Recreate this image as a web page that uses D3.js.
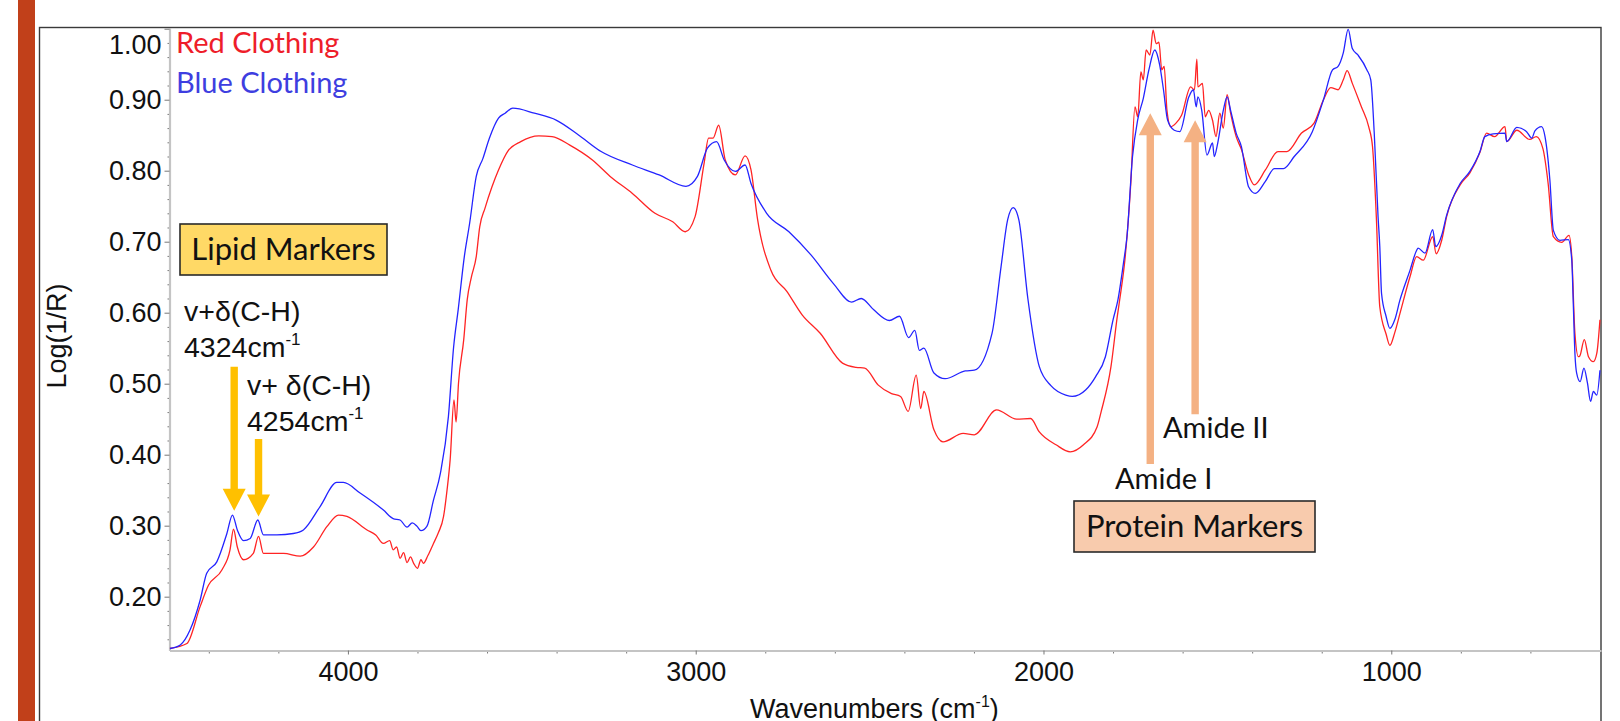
<!DOCTYPE html>
<html>
<head>
<meta charset="utf-8">
<script src="https://cdn.jsdelivr.net/npm/d3@7"></script>
<style>
  body { margin: 0; background: #fff; }
  svg { display: block; }
  .axis text { font-family: "Liberation Sans", Arial, sans-serif; font-size: 27px; fill: #111; }
  .axis .domain { stroke: #c4c4c4; stroke-width: 2.2px; }
  .axis line { stroke: #777; }
  .note { font-family: "Liberation Sans", Arial, sans-serif; font-size: 28.5px; fill: #111; }
  .label { font-family: Lato, "Noto Sans", sans-serif; fill: #111; }
</style>
</head>
<body>
<svg id="chart" width="1620" height="721"></svg>
<script>
// tick values
const xTicks = [4000, 3000, 2000, 1000];
const xMinorTicks = [4400, 4200, 3800, 3600, 3400, 3200, 2800, 2600, 2400, 2200,
  1800, 1600, 1400, 1200, 800, 600];
const yTicks = [0.2, 0.3, 0.4, 0.5, 0.6, 0.7, 0.8, 0.9, 1.0];
const yMinorTicks = [0.14, 0.16, 0.18, 0.22, 0.24, 0.26, 0.28, 0.32, 0.34, 0.36, 0.38,
  0.42, 0.44, 0.46, 0.48, 0.52, 0.54, 0.56, 0.58, 0.62, 0.64, 0.66, 0.68,
  0.72, 0.74, 0.76, 0.78, 0.82, 0.84, 0.86, 0.88, 0.92, 0.94, 0.96, 0.98];

const seriesNames = ["Red Clothing", "Blue Clothing"];

// [wavenumber, log(1/R)]
const redSpectrum = [
  [4512, 0.127], [4463, 0.134], [4425, 0.186], [4401, 0.216], [4362, 0.238],
  [4339, 0.266], [4329, 0.295], [4318, 0.270], [4300, 0.252], [4272, 0.261],
  [4257, 0.285], [4243, 0.261], [4185, 0.261], [4137, 0.257], [4099, 0.270],
  [4060, 0.299], [4027, 0.315], [4003, 0.313], [3945, 0.294], [3920, 0.287],
  [3898, 0.275], [3880, 0.279], [3870, 0.266], [3860, 0.270], [3850, 0.254],
  [3840, 0.262], [3830, 0.248], [3820, 0.256], [3811, 0.247], [3800, 0.240],
  [3790, 0.252], [3783, 0.247], [3770, 0.258], [3754, 0.275], [3740, 0.290],
  [3725, 0.313], [3715, 0.350], [3706, 0.393], [3695, 0.477], [3689, 0.446],
  [3682, 0.501], [3667, 0.562], [3657, 0.618], [3645, 0.650], [3631, 0.679],
  [3621, 0.721], [3606, 0.747], [3586, 0.777], [3567, 0.801], [3541, 0.827],
  [3503, 0.841], [3451, 0.849], [3413, 0.848], [3362, 0.836], [3297, 0.815],
  [3246, 0.792], [3182, 0.768], [3117, 0.740], [3066, 0.728], [3030, 0.714],
  [3002, 0.735], [2976, 0.810], [2963, 0.846], [2950, 0.846], [2934, 0.864],
  [2915, 0.815], [2886, 0.794], [2858, 0.821], [2841, 0.801], [2822, 0.731],
  [2784, 0.660], [2738, 0.630], [2694, 0.597], [2642, 0.571], [2578, 0.529],
  [2539, 0.523], [2514, 0.522], [2475, 0.498], [2437, 0.486], [2411, 0.482],
  [2389, 0.461], [2366, 0.512], [2353, 0.465], [2344, 0.489], [2315, 0.435],
  [2289, 0.418], [2231, 0.430], [2199, 0.428], [2135, 0.463], [2077, 0.450],
  [2037, 0.451], [2012, 0.432], [1964, 0.414], [1923, 0.404], [1885, 0.414],
  [1846, 0.439], [1834, 0.461], [1806, 0.524], [1788, 0.594], [1781, 0.618],
  [1765, 0.679], [1749, 0.782], [1737, 0.890], [1729, 0.876], [1720, 0.939],
  [1713, 0.928], [1705, 0.970], [1694, 0.963], [1685, 0.998], [1676, 0.979],
  [1668, 0.981], [1660, 0.942], [1653, 0.947], [1645, 0.885], [1634, 0.862],
  [1619, 0.867], [1603, 0.878], [1577, 0.918], [1566, 0.914], [1559, 0.957],
  [1556, 0.918], [1543, 0.923], [1535, 0.876], [1525, 0.885], [1514, 0.871],
  [1504, 0.848], [1493, 0.881], [1483, 0.860], [1472, 0.907], [1462, 0.881],
  [1446, 0.848], [1431, 0.830], [1410, 0.794], [1394, 0.780], [1362, 0.801],
  [1326, 0.827], [1300, 0.827], [1258, 0.853], [1222, 0.867], [1195, 0.900],
  [1174, 0.917], [1153, 0.914], [1138, 0.928], [1127, 0.941], [1112, 0.923],
  [1086, 0.890], [1065, 0.862], [1054, 0.834], [1043, 0.735], [1033, 0.608],
  [1015, 0.570], [1004, 0.554], [990, 0.572], [975, 0.599], [946, 0.651],
  [927, 0.679], [908, 0.674], [881, 0.707], [871, 0.683], [855, 0.702],
  [841, 0.735], [802, 0.780], [774, 0.797], [745, 0.826], [726, 0.853],
  [703, 0.848], [673, 0.862], [668, 0.841], [639, 0.857], [602, 0.844],
  [583, 0.848], [564, 0.831], [549, 0.782], [534, 0.707], [510, 0.699],
  [489, 0.709], [481, 0.679], [472, 0.571], [462, 0.538], [458, 0.539],
  [445, 0.562], [433, 0.538], [419, 0.531], [409, 0.543], [400, 0.590]
];

const blueSpectrum = [
  [4512, 0.127], [4482, 0.132], [4454, 0.153], [4425, 0.195], [4406, 0.233],
  [4377, 0.249], [4348, 0.289], [4332, 0.315], [4318, 0.294], [4300, 0.279],
  [4281, 0.282], [4259, 0.308], [4243, 0.287], [4204, 0.287], [4157, 0.289],
  [4128, 0.294], [4080, 0.327], [4032, 0.361], [4013, 0.361], [3965, 0.346],
  [3898, 0.322], [3870, 0.310], [3850, 0.308], [3830, 0.298], [3815, 0.304],
  [3801, 0.299], [3790, 0.293], [3773, 0.299], [3754, 0.336], [3734, 0.374],
  [3711, 0.454], [3696, 0.552], [3683, 0.604], [3665, 0.680], [3650, 0.726],
  [3631, 0.792], [3612, 0.817], [3593, 0.846], [3567, 0.874], [3548, 0.881],
  [3526, 0.888], [3464, 0.881], [3400, 0.871], [3336, 0.850], [3272, 0.827],
  [3182, 0.808], [3105, 0.794], [3028, 0.778], [2995, 0.792], [2966, 0.832],
  [2940, 0.841], [2918, 0.815], [2886, 0.799], [2858, 0.808], [2841, 0.782],
  [2796, 0.740], [2732, 0.714], [2668, 0.681], [2604, 0.641], [2552, 0.615],
  [2524, 0.620], [2488, 0.604], [2443, 0.589], [2414, 0.595], [2388, 0.565],
  [2370, 0.575], [2357, 0.547], [2344, 0.550], [2315, 0.515], [2283, 0.507],
  [2225, 0.518], [2199, 0.519], [2148, 0.571], [2122, 0.665], [2103, 0.731],
  [2087, 0.748], [2071, 0.731], [2045, 0.620], [2012, 0.524], [1978, 0.497],
  [1936, 0.484], [1917, 0.482], [1879, 0.491], [1850, 0.510], [1822, 0.538],
  [1800, 0.590], [1786, 0.618], [1770, 0.670], [1760, 0.707], [1744, 0.820],
  [1729, 0.872], [1713, 0.902], [1697, 0.942], [1680, 0.970], [1666, 0.949],
  [1655, 0.914], [1643, 0.871], [1624, 0.857], [1608, 0.855], [1582, 0.904],
  [1569, 0.914], [1561, 0.890], [1556, 0.904], [1545, 0.885], [1530, 0.822],
  [1514, 0.839], [1509, 0.820], [1499, 0.839], [1483, 0.885], [1472, 0.904],
  [1462, 0.885], [1446, 0.853], [1431, 0.834], [1410, 0.777], [1391, 0.768],
  [1362, 0.785], [1336, 0.803], [1310, 0.803], [1279, 0.820], [1227, 0.855],
  [1195, 0.900], [1169, 0.942], [1153, 0.947], [1138, 0.966], [1124, 0.999],
  [1112, 0.972], [1096, 0.963], [1070, 0.942], [1059, 0.928], [1049, 0.853],
  [1038, 0.735], [1033, 0.693], [1028, 0.627], [1015, 0.595], [1004, 0.578],
  [990, 0.590], [975, 0.618], [946, 0.660], [927, 0.688], [923, 0.691],
  [903, 0.684], [881, 0.717], [872, 0.693], [855, 0.709], [841, 0.737],
  [802, 0.782], [774, 0.799], [745, 0.827], [731, 0.848], [707, 0.852],
  [673, 0.853], [668, 0.841], [639, 0.861], [611, 0.855], [596, 0.846],
  [587, 0.856], [568, 0.862], [558, 0.848], [544, 0.787], [534, 0.716],
  [515, 0.702], [491, 0.703], [481, 0.674], [477, 0.618], [472, 0.543],
  [467, 0.515], [457, 0.503], [446, 0.522], [436, 0.501], [427, 0.475],
  [419, 0.489], [409, 0.484], [400, 0.519]
];

// arrows: wavenumber, start value (tail), end value (tip)
const lipidArrows = [
  { wavenumber: 4327, from: 0.524, to: 0.321 },
  { wavenumber: 4257, from: 0.422, to: 0.313 }
];
const proteinArrows = [
  { wavenumber: 1693, from: 0.387, to: 0.881 },
  { wavenumber: 1564, from: 0.457, to: 0.871 }
];

const plot = { left: 169.5, right: 1601, top: 27.5, bottom: 650.5 };
const colors = ["#ff2424", "#2424ff"];
const legendColors = ["#ee1d2a", "#3e3ee0"];

const svg = d3.select("#chart");

// side bar + frame
svg.append("rect")
  .attr("x", 18).attr("y", 0).attr("width", 17).attr("height", 721)
  .attr("fill", "#c1401a");
svg.append("rect")
  .attr("x", 39.5).attr("y", 27.5).attr("width", 1561.5).attr("height", 720)
  .attr("fill", "none").attr("stroke", "#3a3a3a").attr("stroke-width", 1.4);

const x = d3.scaleLinear().domain([4513, 397]).range([plot.left, plot.right]);
const y = d3.scaleLinear().domain([0.1242, 1.0017]).range([plot.bottom, plot.top]);

// minor ticks first so the axis lines sit on top
svg.append("g")
  .attr("class", "axis minor")
  .attr("transform", "translate(0," + plot.bottom + ")")
  .call(d3.axisBottom(x).tickValues(xMinorTicks).tickSize(3).tickSizeOuter(0).tickFormat(""));
svg.append("g")
  .attr("class", "axis minor")
  .attr("transform", "translate(" + plot.left + ",0)")
  .call(d3.axisLeft(y).tickValues(yMinorTicks).tickSize(2).tickSizeOuter(0).tickFormat(""));
svg.selectAll(".axis.minor .domain").remove();

svg.append("g")
  .attr("class", "axis")
  .attr("transform", "translate(0," + plot.bottom + ")")
  .call(d3.axisBottom(x).tickValues(xTicks).tickSize(4).tickSizeOuter(0)
    .tickPadding(7).tickFormat(d3.format("d")));

const yAxis = svg.append("g")
  .attr("class", "axis")
  .attr("transform", "translate(" + plot.left + ",0)")
  .call(d3.axisLeft(y).tickValues(yTicks).tickSize(5).tickSizeOuter(0)
    .tickPadding(3).tickFormat(d3.format(".2f")));

// the top label sits lower, inside the frame
yAxis.selectAll(".tick")
  .filter((d) => d === 1.0)
  .select("text")
  .attr("dy", "0.92em");

// axis titles
svg.append("text")
  .attr("transform", "translate(66,336) rotate(-90)")
  .attr("text-anchor", "middle")
  .style("font-family", "'Liberation Sans', Arial, sans-serif")
  .style("font-size", "27px")
  .attr("fill", "#111")
  .text("Log(1/R)");

const xTitle = svg.append("text")
  .attr("x", 750).attr("y", 718)
  .style("font-family", "'Liberation Sans', Arial, sans-serif")
  .style("font-size", "27px")
  .attr("fill", "#111");
xTitle.append("tspan").text("Wavenumbers (cm");
xTitle.append("tspan").attr("dy", -11).style("font-size", "16px").text("-1");
xTitle.append("tspan").attr("dy", 11).text(")");

// spectra
svg.append("clipPath").attr("id", "plot-clip")
  .append("rect")
  .attr("x", plot.left).attr("y", plot.top)
  .attr("width", plot.right - plot.left).attr("height", plot.bottom - plot.top);

const line = d3.line()
  .curve(d3.curveMonotoneX)
  .x((d) => x(d[0]))
  .y((d) => y(d[1]));

svg.append("g")
  .attr("clip-path", "url(#plot-clip)")
  .selectAll("path.spectrum")
  .data([redSpectrum, blueSpectrum])
  .enter()
  .append("path")
  .attr("class", "spectrum")
  .attr("d", line)
  .attr("fill", "none")
  .attr("stroke", (d, i) => colors[i])
  .attr("stroke-width", 1.3)
  .attr("stroke-linejoin", "round");

// legend
svg.selectAll("text.legend")
  .data(seriesNames)
  .enter()
  .append("text")
  .attr("class", "legend label")
  .attr("x", 176)
  .attr("y", (d, i) => 53 + i * 40)
  .style("font-size", "29px")
  .style("fill", (d, i) => legendColors[i])
  .text((d) => d);

// block arrows
function drawArrow(g, a, color) {
  const cx = x(a.wavenumber);
  const y0 = y(a.from);
  const y1 = y(a.to);
  const dir = y1 > y0 ? 1 : -1;
  const head = 22, halfHead = 11.5, halfShaft = 3.7;
  const yb = y1 - dir * head;
  const pts = [
    [cx - halfShaft, y0], [cx + halfShaft, y0], [cx + halfShaft, yb],
    [cx + halfHead, yb], [cx, y1], [cx - halfHead, yb], [cx - halfShaft, yb]
  ];
  g.append("path")
    .attr("d", "M" + pts.map((p) => p.join(",")).join("L") + "Z")
    .attr("fill", color);
}
const arrows = svg.append("g");
lipidArrows.forEach((a) => drawArrow(arrows, a, "#ffc000"));
proteinArrows.forEach((a) => drawArrow(arrows, a, "#f4b183"));

// boxes
function labelBox(bx, by, bw, bh, fill, txt) {
  svg.append("rect")
    .attr("x", bx).attr("y", by).attr("width", bw).attr("height", bh)
    .attr("fill", fill).attr("stroke", "#2a2a2a").attr("stroke-width", 1.6);
  svg.append("text")
    .attr("class", "label")
    .attr("x", bx + bw / 2).attr("y", by + bh / 2 + 10.5)
    .attr("text-anchor", "middle")
    .style("font-size", "31px")
    .text(txt);
}
labelBox(180, 224, 207, 51, "#ffd966", "Lipid Markers");
labelBox(1074, 501, 241, 51, "#f8cbad", "Protein Markers");

// peak notes
function note(nx, ny, first, second) {
  svg.append("text").attr("class", "note").attr("x", nx).attr("y", ny).text(first);
  const t2 = svg.append("text").attr("class", "note").attr("x", nx).attr("y", ny + 36);
  t2.append("tspan").text(second);
  t2.append("tspan").attr("dy", -12).style("font-size", "17px").text("-1");
}
note(184, 321, "v+\u03b4(C-H)", "4324cm");
note(247, 394.5, "v+ \u03b4(C-H)", "4254cm");

svg.append("text").attr("class", "label")
  .attr("x", 1163).attr("y", 438).style("font-size", "29px").text("Amide II");
svg.append("text").attr("class", "label")
  .attr("x", 1115).attr("y", 489).style("font-size", "29px").text("Amide I");
</script>
</body>
</html>
